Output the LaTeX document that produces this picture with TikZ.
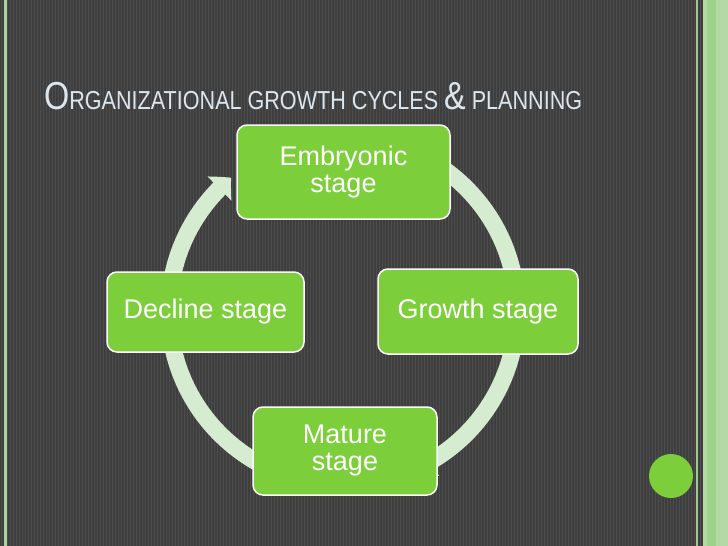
\documentclass[tikz,border=0pt]{standalone}
\usepackage{fontspec}
\setmainfont{Liberation Sans}
\usetikzlibrary{arrows.meta,bending}
\definecolor{bg}{HTML}{3E3E3E}
\definecolor{bgline}{HTML}{4D4D4D}
\definecolor{boxgreen}{HTML}{7DCE3B}
\definecolor{arcgreen}{HTML}{D6ECD0}
\definecolor{titlecol}{HTML}{DCE6EE}
\definecolor{edgegreen}{HTML}{A8D496}
\definecolor{bandgreen}{HTML}{B4D8A6}
\definecolor{bandbright}{HTML}{9ED38A}
\definecolor{stripegreen}{HTML}{A3C596}
\begin{document}
\begin{tikzpicture}[x=1pt,y=-1pt,
  stagebox/.style={draw=white, line width=1.5pt, fill=boxgreen, rounded corners=10pt,
    text=white, font=\fontsize{27}{27}\selectfont, align=center, inner sep=0pt},
  cyclearc/.style={draw=arcgreen, line width=17pt, -{Triangle[width=33pt,length=16pt,bend]}}]
\useasboundingbox (0,0) rectangle (728,546);
% background
\fill[bg] (0,0) rectangle (728,546);
\foreach \x in {0,3,...,726} \draw[bgline, line width=1pt] (\x+1,0) -- (\x+1,546);
% edges
\fill[edgegreen] (4,0) rectangle (6.5,546);
\fill[stripegreen] (696,0) rectangle (698,546);
\fill[bandgreen] (703,0) rectangle (728,546);
\fill[bandbright] (707,0) rectangle (716,546);
% title
\node[anchor=base west, text=titlecol, inner sep=0pt] (title) at (44,109)
  {\scalebox{0.83}[1]{\fontsize{39}{39}\selectfont O\fontsize{26}{26}\selectfont RGANIZATIONAL GROWTH CYCLES \fontsize{39}{39}\selectfont\&\fontsize{26}{26}\selectfont{} PLANNING}};
% cycle arcs
\coordinate (cyc) at (343,311);
\draw[cyclearc] ([shift={(185:174)}]cyc) arc[start angle=185, end angle=230, radius=174];
\draw[cyclearc] ([shift={(265:174)}]cyc) arc[start angle=265, end angle=355, radius=174];
\draw[cyclearc] ([shift={(5:174)}]cyc) arc[start angle=5, end angle=65, radius=174];
\draw[cyclearc] ([shift={(115:174)}]cyc) arc[start angle=115, end angle=175, radius=174];
% stages
\node[stagebox, minimum width=213pt, minimum height=94pt] (emb) at (343.5,172) {Embryonic\\stage};
\node[stagebox, minimum width=200pt, minimum height=85pt] (gro) at (478,311.5) {Growth stage};
\node[stagebox, minimum width=184pt, minimum height=88pt] (mat) at (345,451) {Mature\\stage};
\node[stagebox, minimum width=197pt, minimum height=80pt] (dec) at (205.5,312) {Decline stage};
% dot
\fill[boxgreen] (671,476) circle[radius=22];
\end{tikzpicture}
\end{document}
